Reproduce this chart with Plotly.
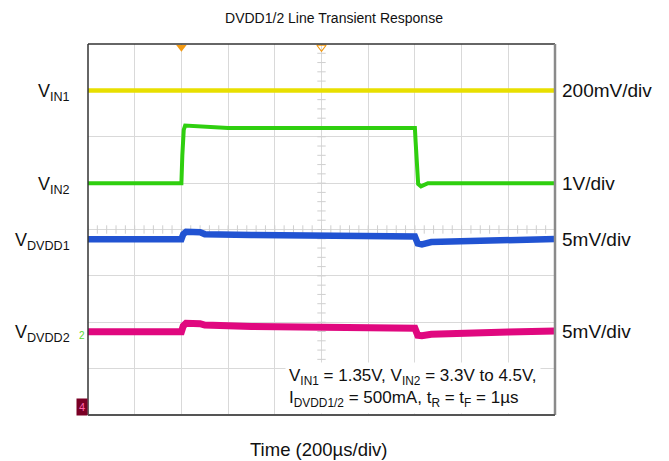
import numpy as np
import plotly.graph_objects as go

# ---- data (time in µs, levels in scope divisions, 0 = bottom graticule) ----
t_vin1 = [0, 2000]
vin1 = [7.0, 7.0]

t_vin2 = [0, 400, 404, 410, 416, 470, 600, 1000, 1400, 1403, 1408, 1414, 1426, 1456, 2000]
vin2 = [5.0, 5.0, 5.6, 6.15, 6.24, 6.22, 6.19, 6.19, 6.19, 5.9, 5.3, 4.98, 4.93, 5.0, 5.0]

t_dvdd1 = [0, 400, 408, 420, 480, 500, 700, 1000, 1400, 1412, 1430, 1470, 1600, 1800, 2000]
dvdd1 = [3.79, 3.79, 3.90, 3.95, 3.94, 3.90, 3.88, 3.866, 3.85, 3.70, 3.68, 3.73, 3.75, 3.77, 3.795]

t_dvdd2 = [0, 400, 408, 420, 480, 500, 700, 1000, 1400, 1412, 1430, 1470, 1600, 1800, 2000]
dvdd2 = [1.796, 1.796, 1.92, 1.977, 1.97, 1.94, 1.91, 1.883, 1.87, 1.72, 1.71, 1.74, 1.77, 1.79, 1.81]

left_labels = ["V<sub>IN1</sub>", "V<sub>IN2</sub>", "V<sub>DVDD1</sub>", "V<sub>DVDD2</sub>"]
right_labels = ["200mV/div", "1V/div", "5mV/div", "5mV/div"]
label_levels = [7.0, 5.0, 3.79, 1.796]

title_text = "DVDD1/2 Line Transient Response"
xlabel_text = "Time (200µs/div)"
note_text = ("V<sub>IN1</sub> = 1.35V, V<sub>IN2</sub> = 3.3V to 4.5V,<br>"
             "I<sub>DVDD1/2</sub> = 500mA, t<sub>R</sub> = t<sub>F</sub> = 1µs")

FONT = "Arial, Liberation Sans, sans-serif"
OFF = 8  # page body margin offset
W, H = 669 - OFF, 461 - OFF
L, R, T, B = 88 - OFF, 114, 44 - OFF, 46
PW, PH = W - L - R, H - T - B

def px_x(px):
    return (px - OFF - L) / PW

def px_y(py):
    return 1 - (py - OFF - T) / PH

fig = go.Figure()

# graticule minor ticks along centre lines
tick_x = np.arange(0, 2001, 40)
fig.add_trace(go.Scatter(x=tick_x, y=[4] * len(tick_x), mode="markers",
                         marker=dict(symbol="line-ns", size=6, line=dict(width=1, color="#cfcfcf")),
                         hoverinfo="skip", showlegend=False))
tick_y = np.arange(0, 8.01, 0.2)
fig.add_trace(go.Scatter(x=[1000] * len(tick_y), y=tick_y, mode="markers",
                         marker=dict(symbol="line-ew", size=6, line=dict(width=1, color="#cfcfcf")),
                         hoverinfo="skip", showlegend=False))

# traces
fig.add_trace(go.Scatter(x=t_vin1, y=vin1, mode="lines",
                         line=dict(color="#e8df00", width=4.5), showlegend=False))
fig.add_trace(go.Scatter(x=t_vin2, y=vin2, mode="lines",
                         line=dict(color="#2fcf0f", width=4), showlegend=False))
fig.add_trace(go.Scatter(x=t_dvdd1, y=dvdd1, mode="lines",
                         line=dict(color="#2153d2", width=6.5), showlegend=False))
fig.add_trace(go.Scatter(x=t_dvdd2, y=dvdd2, mode="lines",
                         line=dict(color="#e0087f", width=7), showlegend=False))

# trigger markers at top
fig.add_trace(go.Scatter(x=[400], y=[7.93], mode="markers", cliponaxis=False,
                         marker=dict(symbol="triangle-down", size=9, color="#f39a12"),
                         showlegend=False, hoverinfo="skip"))
fig.add_trace(go.Scatter(x=[1000], y=[7.93], mode="markers", cliponaxis=False,
                         marker=dict(symbol="triangle-down-open", size=8, color="#f39a12",
                                     line=dict(width=1.2)),
                         showlegend=False, hoverinfo="skip"))

annotations = []
for lab, lev in zip(left_labels, label_levels):
    annotations.append(dict(text=lab, x=px_x(72), xref="paper", y=lev, yref="y",
                            xanchor="right", yanchor="middle", showarrow=False,
                            yshift=-2, font=dict(family=FONT, size=18, color="#111")))
for lab, lev in zip(right_labels, label_levels):
    annotations.append(dict(text=lab, x=px_x(560), xref="paper", y=lev, yref="y",
                            xanchor="left", yanchor="middle", showarrow=False,
                            font=dict(family=FONT, size=19, color="#111")))

annotations.append(dict(text=note_text, x=px_x(285), xref="paper", y=px_y(388), yref="paper",
                        xanchor="left", yanchor="middle", showarrow=False, align="left",
                        bgcolor="white", borderpad=3,
                        font=dict(family=FONT, size=17, color="#111")))

annotations.append(dict(text=xlabel_text, x=px_x(318), xref="paper", y=px_y(449), yref="paper",
                        xanchor="center", yanchor="middle", showarrow=False,
                        font=dict(family=FONT, size=18.5, color="#111")))

# channel markers
annotations.append(dict(text="2", x=px_x(82), xref="paper", y=px_y(335), yref="paper",
                        xanchor="center", yanchor="middle", showarrow=False,
                        font=dict(family=FONT, size=10, color="#55dd33")))
annotations.append(dict(text="4", x=px_x(82), xref="paper", y=px_y(407), yref="paper",
                        xanchor="center", yanchor="middle", showarrow=False,
                        bgcolor="#7a0025", borderpad=2,
                        font=dict(family=FONT, size=11, color="#ff66aa")))

shapes = [
    dict(type="line", xref="paper", yref="paper", x0=0, x1=1, y0=1, y1=1,
         line=dict(color="#333333", width=1.5)),
    dict(type="line", xref="paper", yref="paper", x0=0, x1=0, y0=0, y1=1,
         line=dict(color="#333333", width=1.5)),
    dict(type="line", xref="paper", yref="paper", x0=1, x1=1, y0=0, y1=1,
         line=dict(color="#8a8a8a", width=2.5)),
    dict(type="line", xref="paper", yref="paper", x0=0, x1=1, y0=0, y1=0,
         line=dict(color="#555555", width=2)),
]

fig.update_layout(
    width=W, height=H,
    margin=dict(l=L, r=R, t=T, b=B),
    paper_bgcolor="white", plot_bgcolor="white",
    title=dict(text=title_text, x=px_x(334), xref="paper", xanchor="center",
               y=1 - (18 - OFF) / H, yanchor="middle", yref="container",
               font=dict(family=FONT, size=14, color="#111")),
    xaxis=dict(range=[0, 2000], dtick=200, tick0=0, showgrid=True, gridcolor="#d9d9d9",
               gridwidth=1, zeroline=False, showticklabels=False, ticks="", fixedrange=True),
    yaxis=dict(range=[0, 8], dtick=1, tick0=0, showgrid=True, gridcolor="#d9d9d9",
               gridwidth=1, zeroline=False, showticklabels=False, ticks="", fixedrange=True),
    annotations=annotations,
    shapes=shapes,
    showlegend=False,
)

fig.write_html("out.html")
